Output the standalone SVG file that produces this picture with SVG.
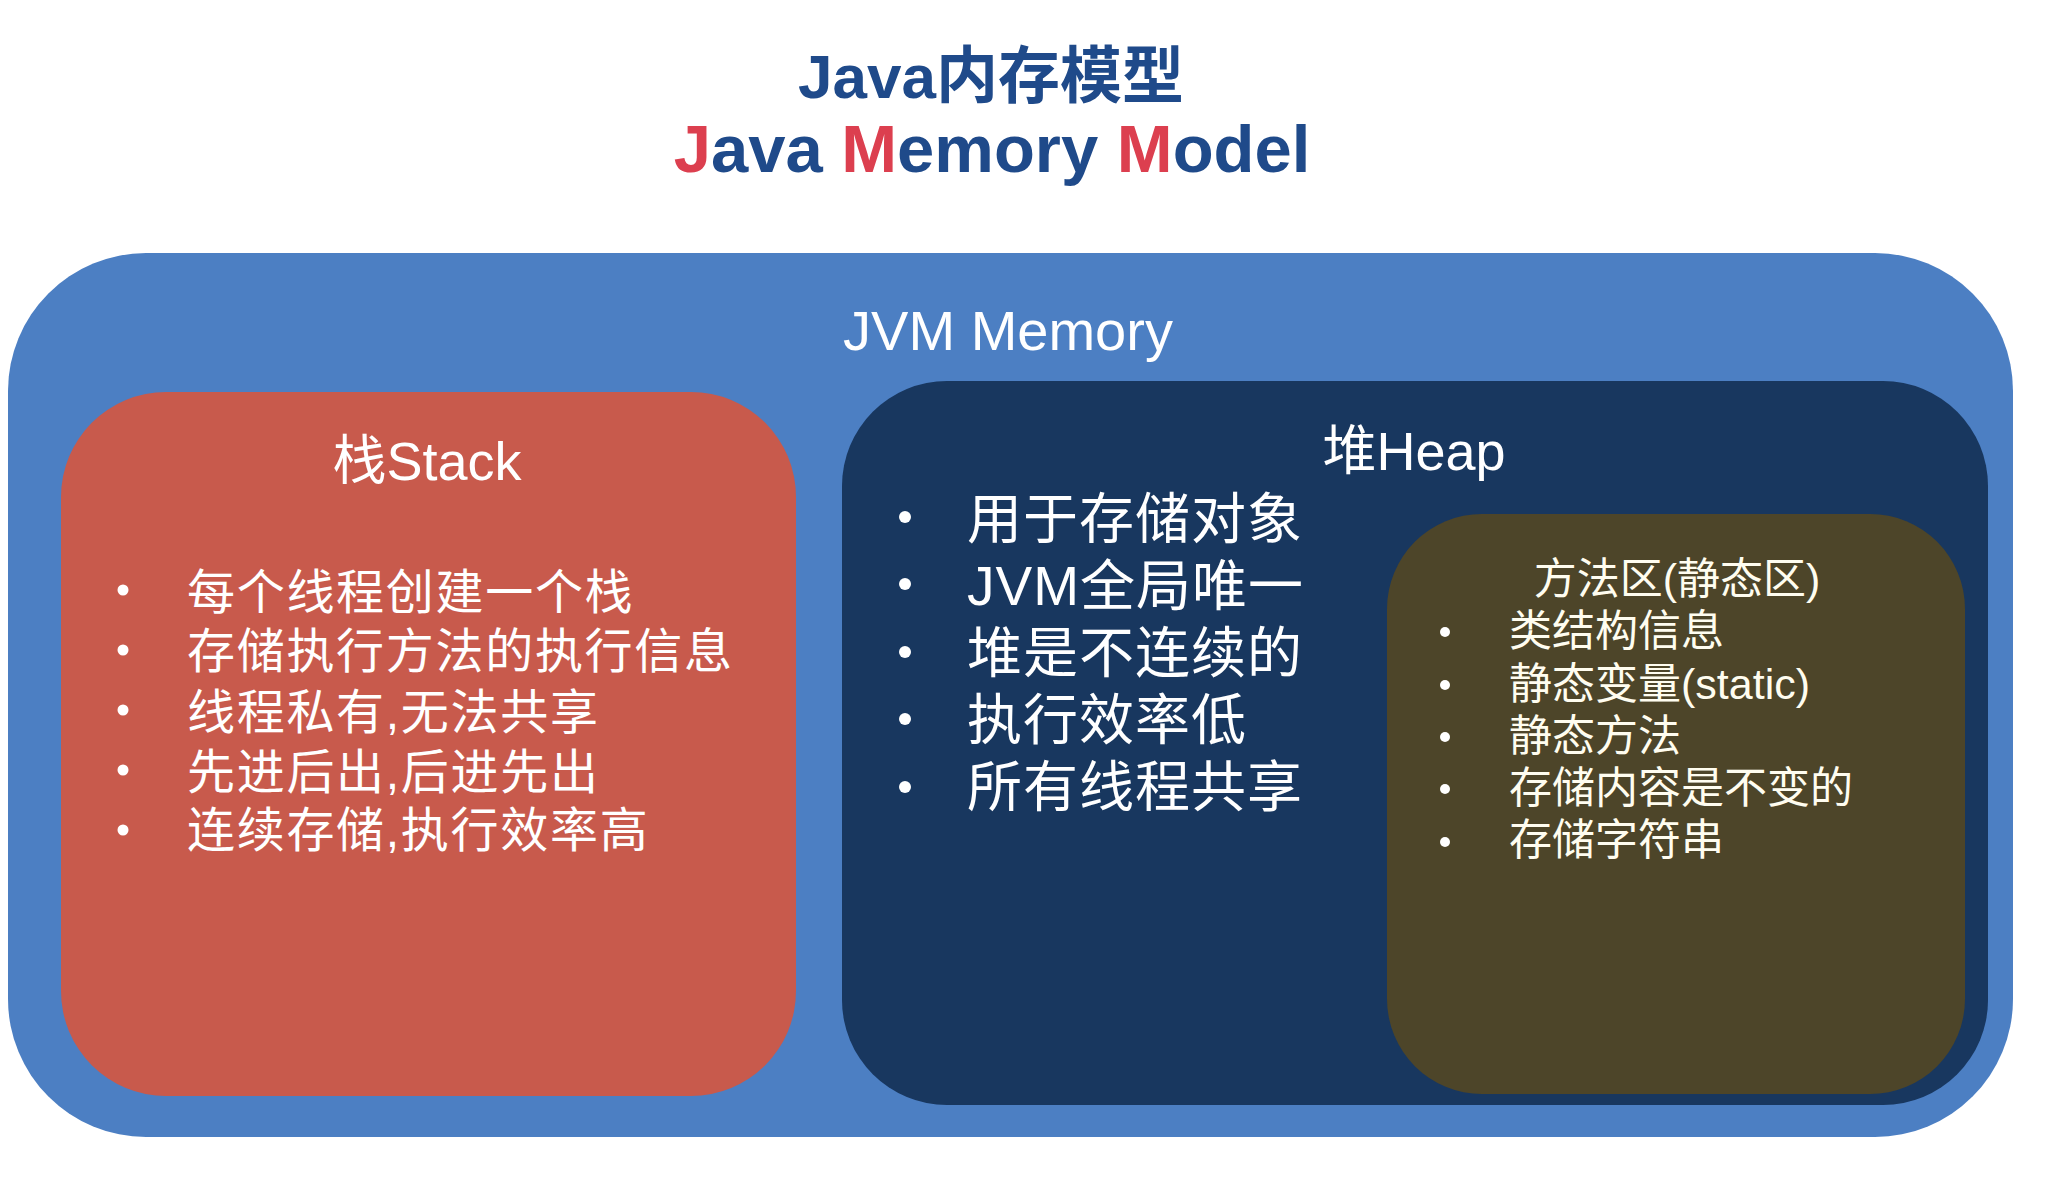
<svg xmlns="http://www.w3.org/2000/svg" width="2063" height="1185" viewBox="0 0 2063 1185">
<style>
.t{font-family:"Liberation Sans","Noto Sans CJK SC",sans-serif;fill:#ffffff}
.title{font-family:"Liberation Sans","Noto Sans CJK SC",sans-serif;font-weight:bold;fill:#1F4A8A}
.red{fill:#DC3F4F}
.s{font-size:48px;letter-spacing:1.7px}
.h{font-size:55px;letter-spacing:1px}
.m{font-size:43px}
.mt{fill:#FFFDF0}
.b{fill:#ffffff}
</style>
<rect width="2063" height="1185" fill="#ffffff"/>
<g id="title">
<text class="title" x="991" y="98" font-size="62" text-anchor="middle">Java内存模型</text>
<text class="title" x="992" y="172" font-size="67" text-anchor="middle"><tspan class="red">J</tspan>ava <tspan class="red">M</tspan>emory <tspan class="red">M</tspan>odel</text>
</g>
<g id="jvm-memory">
<rect x="8" y="253" width="2005" height="884" rx="138" ry="138" fill="#4C7FC3"/>
<text class="t" x="1008" y="350" font-size="56" text-anchor="middle">JVM Memory</text>
</g>
<g id="stack">
<rect x="61" y="392" width="735" height="704" rx="105" ry="105" fill="#C85A4C"/>
<text class="t" x="427" y="480" font-size="54" text-anchor="middle">栈Stack</text>
<g class="b">
<circle cx="123" cy="590" r="5.5"/><circle cx="123" cy="650" r="5.5"/><circle cx="123" cy="710" r="5.5"/><circle cx="123" cy="770" r="5.5"/><circle cx="123" cy="830" r="5.5"/>
</g>
<text class="t s" x="187" y="609">每个线程创建一个栈</text>
<text class="t s" x="187" y="668">存储执行方法的执行信息</text>
<text class="t s" x="187" y="729">线程私有,无法共享</text>
<text class="t s" x="187" y="789">先进后出,后进先出</text>
<text class="t s" x="187" y="847">连续存储,执行效率高</text>
</g>
<g id="heap">
<rect x="842" y="381" width="1146" height="724" rx="105" ry="105" fill="#18375F"/>
<text class="t" x="1414" y="470" font-size="54" text-anchor="middle">堆Heap</text>
<g class="b">
<circle cx="905" cy="517" r="6"/><circle cx="905" cy="584" r="6"/><circle cx="905" cy="652" r="6"/><circle cx="905" cy="719" r="6"/><circle cx="905" cy="787" r="6"/>
</g>
<text class="t h" x="967" y="538">用于存储对象</text>
<text class="t h" x="967" y="605">JVM全局唯一</text>
<text class="t h" x="967" y="672">堆是不连续的</text>
<text class="t h" x="967" y="739">执行效率低</text>
<text class="t h" x="967" y="806">所有线程共享</text>
</g>
<g id="method-area">
<rect x="1387" y="514" width="578" height="580" rx="95" ry="95" fill="#4D4529"/>
<text class="t m mt" x="1677" y="594" text-anchor="middle">方法区(静态区)</text>
<g class="b">
<circle cx="1445" cy="632" r="5"/><circle cx="1445" cy="685" r="5"/><circle cx="1445" cy="737" r="5"/><circle cx="1445" cy="789" r="5"/><circle cx="1445" cy="842" r="5"/>
</g>
<text class="t m mt" x="1509" y="646">类结构信息</text>
<text class="t m mt" x="1509" y="699">静态变量(static)</text>
<text class="t m mt" x="1509" y="751">静态方法</text>
<text class="t m mt" x="1509" y="803">存储内容是不变的</text>
<text class="t m mt" x="1509" y="855">存储字符串</text>
</g>
<g id="connectors"></g>
</svg>
